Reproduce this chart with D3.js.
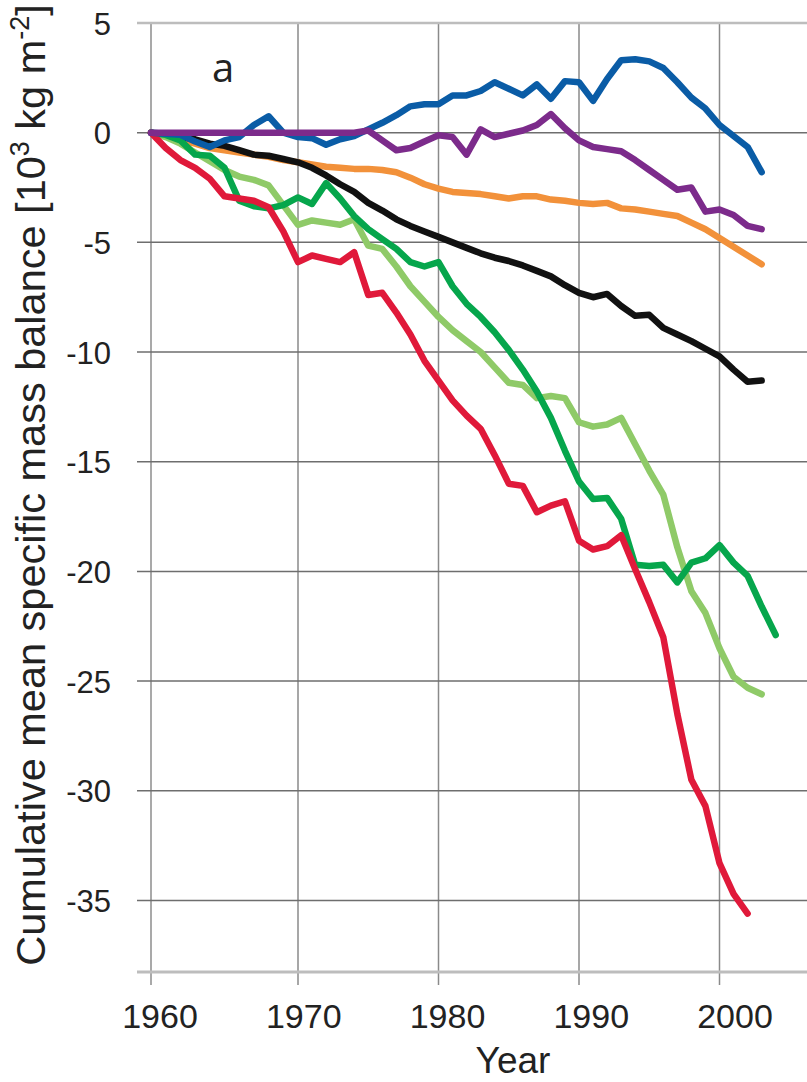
<!DOCTYPE html>
<html>
<head>
<meta charset="utf-8">
<script src="https://cdn.jsdelivr.net/npm/d3@7"></script>
<style>
html,body{margin:0;padding:0;background:#fff;}
svg{display:block;}
</style>
</head>
<body>
<svg id="chart" width="807" height="1082"></svg>
<script>
// ---- data ----
const startYear = 1960;
const xTicks = [1960, 1970, 1980, 1990, 2000];
const yTicks = [5, 0, -5, -10, -15, -20, -25, -30, -35];

const blue = [0, -0.05, -0.1, -0.4, -0.65, -0.35, -0.2, 0.35, 0.75, 0.0,
  -0.2, -0.25, -0.55, -0.3, -0.15, 0.15, 0.45, 0.8, 1.2, 1.3,
  1.3, 1.7, 1.7, 1.9, 2.3, 2.0, 1.7, 2.2, 1.55, 2.35,
  2.3, 1.45, 2.45, 3.3, 3.35, 3.25, 2.95, 2.3, 1.6, 1.1,
  0.35, -0.15, -0.65, -1.8];
const purple = [0, 0, 0, 0, 0, 0, 0, 0, 0, 0,
  0, 0, 0, 0, 0, 0.1, -0.35, -0.8, -0.7, -0.4,
  -0.12, -0.2, -1.0, 0.15, -0.2, -0.05, 0.1, 0.35, 0.85, 0.2,
  -0.35, -0.65, -0.75, -0.85, -1.25, -1.7, -2.15, -2.6, -2.5, -3.6,
  -3.5, -3.75, -4.25, -4.4];
const orange = [0, -0.15, -0.35, -0.5, -0.7, -0.8, -0.9, -1.0, -1.1, -1.25,
  -1.35, -1.45, -1.55, -1.6, -1.65, -1.65, -1.7, -1.8, -2.05, -2.35,
  -2.55, -2.7, -2.75, -2.8, -2.9, -3.0, -2.9, -2.9, -3.05, -3.1,
  -3.2, -3.25, -3.2, -3.45, -3.5, -3.6, -3.7, -3.8, -4.1, -4.4,
  -4.8, -5.2, -5.6, -6.0];
const black = [0, -0.1, -0.2, -0.3, -0.5, -0.6, -0.8, -1.0, -1.05, -1.2,
  -1.35, -1.6, -1.95, -2.35, -2.7, -3.2, -3.55, -3.95, -4.25, -4.5,
  -4.75, -5.0, -5.25, -5.5, -5.7, -5.85, -6.05, -6.3, -6.55, -6.95,
  -7.3, -7.5, -7.35, -7.9, -8.35, -8.3, -8.9, -9.2, -9.5, -9.85,
  -10.2, -10.8, -11.35, -11.3];
const lightGreen = [0, -0.2, -0.5, -0.9, -1.3, -1.7, -2.0, -2.15, -2.4, -3.3,
  -4.2, -4.0, -4.1, -4.2, -3.95, -5.15, -5.3, -6.1, -7.0, -7.7,
  -8.4, -9.0, -9.5, -10.0, -10.7, -11.4, -11.5, -12.1, -12.0, -12.1,
  -13.2, -13.4, -13.3, -13.0, -14.2, -15.4, -16.5, -18.9, -20.9, -21.9,
  -23.5, -24.8, -25.3, -25.6];
const green = [0, -0.1, -0.35, -1.0, -1.05, -1.6, -3.1, -3.35, -3.45, -3.3,
  -2.95, -3.25, -2.3, -3.0, -3.8, -4.4, -4.85, -5.3, -5.9, -6.1,
  -5.9, -7.0, -7.8, -8.4, -9.1, -9.9, -10.8, -11.8, -13.0, -14.5,
  -15.9, -16.7, -16.65, -17.6, -19.7, -19.75, -19.7, -20.5, -19.6, -19.4,
  -18.8, -19.6, -20.2, -21.6, -22.9];
const red = [0, -0.7, -1.25, -1.6, -2.1, -2.9, -3.0, -3.1, -3.4, -4.5,
  -5.9, -5.6, -5.75, -5.9, -5.45, -7.4, -7.3, -8.2, -9.2, -10.4,
  -11.3, -12.2, -12.9, -13.5, -14.7, -16.0, -16.1, -17.3, -17.0, -16.8,
  -18.6, -19.0, -18.85, -18.35, -19.9, -21.4, -23.0, -26.5, -29.5, -30.7,
  -33.3, -34.7, -35.6];

const series = [
  {name: "orange", values: orange, color: "#f2913a"},
  {name: "black", values: black, color: "#111111"},
  {name: "lightGreen", values: lightGreen, color: "#8fca68"},
  {name: "green", values: green, color: "#06a64c"},
  {name: "red", values: red, color: "#e0193a"},
  {name: "blue", values: blue, color: "#0a5ca6"},
  {name: "purple", values: purple, color: "#7c2b8b"}
];

// ---- layout ----
const svg = d3.select("#chart");
const pLeft = 151, pRight = 807, pTop = 23, pBottom = 972;

const x = d3.scaleLinear().domain([1960, 1970, 2000]).range([151, 298, 719.5]);
const xLab = d3.scaleLinear().domain([1960, 2000]).range([160, 735]);
const y = d3.scaleLinear().domain([-38.26, 5]).range([pBottom, pTop]);

// vertical gridlines
svg.append("g").selectAll("line").data(xTicks).join("line")
  .attr("x1", d => x(d)).attr("x2", d => x(d))
  .attr("y1", pTop).attr("y2", 985)
  .attr("stroke", d => d === 1960 ? "#a9a9a9" : "#8a8a8a")
  .attr("stroke-width", d => d === 1960 ? 2 : 1.5);

// horizontal gridlines
svg.append("g").selectAll("line").data(yTicks).join("line")
  .attr("x1", 137).attr("x2", pRight)
  .attr("y1", d => y(d)).attr("y2", d => y(d))
  .attr("stroke", d => d === 5 ? "#bdbdbd" : "#6e6e6e")
  .attr("stroke-width", d => d === 5 ? 2.5 : 1.5);

// bottom axis line
svg.append("line")
  .attr("x1", 137).attr("x2", pRight)
  .attr("y1", pBottom).attr("y2", pBottom)
  .attr("stroke", "#bdbdbd").attr("stroke-width", 3);

// y tick labels via axis
const yAxis = svg.append("g")
  .attr("transform", `translate(${pLeft},0)`)
  .call(d3.axisLeft(y).tickValues(yTicks).tickSize(0).tickPadding(40).tickFormat(d => String(d)));
yAxis.select(".domain").remove();
yAxis.selectAll("text")
  .attr("font-family", "Liberation Sans, Arial, sans-serif")
  .attr("font-size", 31).attr("fill", "#222")
  .attr("dy", "0.36em");

// x tick labels
svg.append("g").selectAll("text").data(xTicks).join("text")
  .attr("x", d => xLab(d)).attr("y", 1028)
  .attr("text-anchor", "middle")
  .attr("font-family", "Liberation Sans, Arial, sans-serif")
  .attr("font-size", 34).attr("fill", "#222")
  .text(d => d);

// lines
const line = d3.line()
  .x((d, i) => x(startYear + i))
  .y(d => y(d));

svg.append("g").selectAll("path").data(series).join("path")
  .attr("d", s => line(s.values))
  .attr("fill", "none")
  .attr("stroke", s => s.color)
  .attr("stroke-width", 6.5)
  .attr("stroke-linejoin", "round")
  .attr("stroke-linecap", "round");

// panel label
svg.append("text")
  .attr("x", 212).attr("y", 82)
  .attr("font-family", "Open Sans, sans-serif")
  .attr("font-size", 40).attr("fill", "#222")
  .text("a");

// x title
svg.append("text")
  .attr("x", 513).attr("y", 1073)
  .attr("text-anchor", "middle")
  .attr("font-family", "Liberation Sans, Arial, sans-serif")
  .attr("font-size", 37).attr("fill", "#222")
  .text("Year");

// y title
const yt = svg.append("text")
  .attr("transform", "translate(45,485) rotate(-90)")
  .attr("text-anchor", "middle")
  .attr("font-family", "Liberation Sans, Arial, sans-serif")
  .attr("font-size", 41.5).attr("fill", "#222");
yt.append("tspan").text("Cumulative mean specific mass balance [10");
yt.append("tspan").attr("font-size", 27).attr("dy", -16).text("3");
yt.append("tspan").attr("dy", 16).text(" kg m");
yt.append("tspan").attr("font-size", 27).attr("dy", -16).text("-2");
yt.append("tspan").attr("dy", 16).text("]");
</script>
</body>
</html>
